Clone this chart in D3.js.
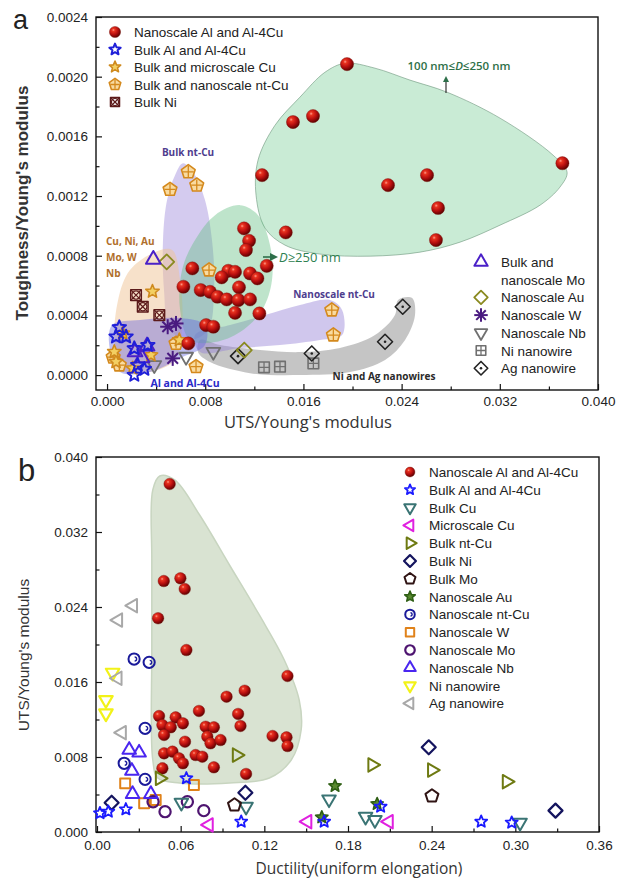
<!DOCTYPE html>
<html><head><meta charset="utf-8">
<script src="https://cdn.jsdelivr.net/npm/d3@7"></script>
<style>body{margin:0;background:#fff}svg{display:block}</style>
</head><body>
<svg id="c" width="627" height="882"></svg>
<script>
// ===== Panel a data: [UTS/E, Toughness/E] =====
const aNanoAl = [[0.01955,0.002084],[0.01515,0.001696],[0.01678,0.001736],[0.01263,0.00134],[0.02289,0.001273],[0.02607,0.00134],[0.02697,0.00112],[0.0268,0.000905],[0.0371,0.00142],[0.01456,0.000956],
 [0.01116,0.000983],[0.01157,0.0009],[0.01132,0.000838],[0.01301,0.000732],[0.00695,0.000715],[0.00988,0.000699],[0.01043,0.000692],[0.00934,0.000655],[0.01165,0.000681],[0.01225,0.000648],[0.00622,0.000592],[0.00763,0.00057],[0.00839,0.000558],[0.01075,0.000588],[0.00899,0.000525],[0.00975,0.000507],[0.0107,0.000503],[0.01165,0.000507],[0.01043,0.000417],[0.01241,0.000413],[0.00807,0.000335],[0.00866,0.000324],[0.00662,0.000212]];
const aBulkAl = [[0.0010,0.00032],[0.00155,0.000257],[0.0025,0.000067],[0.00222,0.0],[0.00304,0.00004],[0.00332,0.0002],[0.00222,0.000179],[0.00073,0.000257]];
const aBulkCu = [[0.0037,0.00056],[0.00073,0.000089],[0.00128,0.00028],[0.00209,0.000045],[0.00358,0.000134],[0.00589,0.000235],[0.00059,0.000156]];
const aNtCu = [[0.00662,0.001362],[0.00513,0.001244],[0.00731,0.001273],[0.00831,0.000704],[0.01831,0.000436],[0.01844,0.000268],[0.00562,0.000212],[0.00725,0.000056],[0.0010,0.000067],[0.0005,0.00012]];
const aBulkNi = [[0.00236,0.000536],[0.00291,0.000458],[0.00426,0.000402]];
const aMo = [[0.00377,0.000775],[0.00326,0.000194],[0.00285,0.000114],[0.00228,0.000154]];
const aAu = [[0.00486,0.000759],[0.01118,0.000168]];
const aW = [[0.00494,0.000324],[0.00562,0.000346],[0.00535,0.000112]];
const aNb = [[0.00866,0.000156],[0.00644,0.000123],[0.00385,0.000067]];
const aNiWire = [[0.01279,0.000052],[0.01409,0.000056],[0.01681,0.000078]];
const aAgWire = [[0.01067,0.000127],[0.01668,0.000145],[0.02265,0.000223],[0.02409,0.000458]];
const aXTicks = [0,0.008,0.016,0.024,0.032,0.040];
const aXMinor = [0.004,0.012,0.020,0.028,0.036];
const aYTicks = [0,0.0004,0.0008,0.0012,0.0016,0.0020,0.0024];
const aYMinor = [0.0002,0.0006,0.0010,0.0014,0.0018,0.0022];
// shaded regions (data coords)
const aRegBig = [[0.0123,0.00144],[0.01369,0.001675],[0.01572,0.001863],[0.01776,0.00203],[0.01939,0.00209],[0.02183,0.002057],[0.02468,0.001977],[0.0277,0.001896],[0.03202,0.001722],[0.03634,0.001474],[0.03748,0.00136],[0.0369,0.00126],[0.03528,0.001139],[0.03202,0.001005],[0.02876,0.000891],[0.0255,0.000824],[0.02143,0.000797],[0.01735,0.000811],[0.0145,0.000871],[0.01287,0.000985],[0.01214,0.001206]];
const aRegD250 = [[0.00611,0.000704],[0.00717,0.000905],[0.0088,0.001072],[0.01084,0.001139],[0.0123,0.001072],[0.01328,0.000871],[0.01344,0.000637],[0.01263,0.000436],[0.01084,0.000288],[0.0088,0.000221],[0.00676,0.000235],[0.00595,0.000436]];
const aRegBulkNt = [[0.00619,0.00142],[0.00717,0.00134],[0.00798,0.001173],[0.00855,0.000905],[0.00872,0.00057],[0.00823,0.000302],[0.00676,0.000235],[0.00513,0.000302],[0.00464,0.00057],[0.00456,0.000905],[0.00489,0.001173],[0.00554,0.00134]];
const aRegCuNi = [[0.0009,0.000503],[0.00187,0.000704],[0.00391,0.000824],[0.0053,0.000838],[0.00595,0.000637],[0.00611,0.000302],[0.00554,0.000101],[0.0035,0.00002],[0.00147,0.00002],[0.00065,0.000168]];
const aRegAl = [[0.00041,0.000335],[0.00269,0.000369],[0.00595,0.000382],[0.00798,0.000335],[0.00798,0.000201],[0.00595,0.000114],[0.0035,0.00002],[0.00106,0.00002],[0.00024,0.000168]];
const aRegNanoNt = [[0.00717,0.000268],[0.01002,0.000335],[0.01287,0.000402],[0.01572,0.000469],[0.01817,0.000503],[0.01915,0.000436],[0.01915,0.000268],[0.01735,0.000235],[0.01409,0.000201],[0.01084,0.000181],[0.00758,0.000154]];
const aRegWire = [[0.00758,0.000235],[0.00921,0.000201],[0.01247,0.000168],[0.01572,0.000154],[0.01898,0.000181],[0.02183,0.000268],[0.02346,0.000402],[0.02371,0.000503],[0.02485,0.000516],[0.02509,0.000402],[0.02428,0.000235],[0.02265,0.000101],[0.0198,0.00002],[0.01572,0.0],[0.01165,0.000013],[0.00839,0.000087],[0.00741,0.000154]];

// ===== Panel b data: [ductility, UTS/E] =====
const bNanoAl = [[0.0521,0.03712],[0.0479,0.02677],[0.0598,0.02706],[0.0629,0.02592],[0.0438,0.0228],[0.0641,0.01941],
 [0.0929,0.01443],[0.1059,0.01507],[0.0731,0.01291],[0.1012,0.01259],[0.1029,0.01131],[0.0445,0.01237],[0.0564,0.01223],[0.0616,0.01159],[0.0469,0.01141],[0.0529,0.01117],[0.0779,0.01123],[0.0838,0.01117],[0.0481,0.01035],[0.0631,0.00963],[0.0791,0.01017],[0.0814,0.00946],[0.0886,0.00981],[0.0481,0.00839],[0.0541,0.00857],[0.0707,0.00821],[0.0755,0.00803],[0.0588,0.00786],[0.0616,0.00733],[0.0838,0.0069],[0.0469,0.00679],[0.1069,0.00619],[0.1366,0.01664],[0.1259,0.01024],[0.1359,0.0101],[0.1366,0.00917]];
const bBulkAl = [[0.0021,0.002],[0.0081,0.00217],[0.0207,0.00242],[0.0641,0.00573],[0.1034,0.0011],[0.2755,0.0011],[0.2974,0.001],[0.1629,0.0011],[0.2034,0.0027]];
const bBulkCu = [[0.0605,0.00313],[0.1664,0.00349],[0.1926,0.00163],[0.1993,0.00128],[0.3034,0.001],[0.1069,0.0027]];
const bMicroCu = [[0.0802,0.00075],[0.1509,0.0011],[0.2093,0.0011]];
const bBulkNtCu = [[0.1002,0.00821],[0.045,0.00573],[0.1974,0.00715],[0.2402,0.00661],[0.2938,0.00537]];
const bBulkNi = [[0.0105,0.00313],[0.1064,0.00419],[0.2379,0.00903],[0.3288,0.00228]];
const bBulkMo = [[0.0986,0.00288],[0.2402,0.00384]];
const bNanoAu = [[0.1707,0.00491],[0.1612,0.00157],[0.2009,0.00299]];
const bNanoNtCu = [[0.0266,0.01845],[0.0374,0.0181],[0.0345,0.01106],[0.0195,0.00733],[0.0345,0.00562]];
const bNanoW = [[0.0202,0.00519],[0.0695,0.00501],[0.0338,0.00306],[0.0421,0.00341]];
const bNanoMo = [[0.0488,0.00217],[0.0648,0.00323],[0.0766,0.00228],[0.0402,0.00323]];
const bNanoNb = [[0.0231,0.00875],[0.0302,0.00846],[0.025,0.00651],[0.0255,0.00405],[0.0386,0.00405]];
const bNiWire = [[0.0064,0.01408],[0.0064,0.01266],[0.0112,0.017]];
const bAgWire = [[0.0148,0.0164],[0.0179,0.01059],[0.0152,0.02261],[0.0259,0.02414]];
const bXTicks = [0,0.06,0.12,0.18,0.24,0.30,0.36];
const bXMinor = [0.03,0.09,0.15,0.21,0.27,0.33];
const bYTicks = [0,0.008,0.016,0.024,0.032,0.040];
const bYMinor = [0.004,0.012,0.020,0.028,0.036];
const bRegion = [[0.04,0.03648],[0.045,0.03797],[0.0557,0.03755],[0.0736,0.03381],[0.095,0.02848],[0.1164,0.02315],[0.1343,0.01835],[0.145,0.01408],[0.1464,0.01088],[0.1393,0.00768],[0.1236,0.00576],[0.095,0.00523],[0.0593,0.00523],[0.0436,0.00576],[0.04,0.00768],[0.0393,0.01941],[0.0393,0.02901]];

// ===== drawing =====
const svg = d3.select('#c');
const defs = svg.append('defs');
const g1 = defs.append('radialGradient').attr('id','sph').attr('cx','36%').attr('cy','32%').attr('r','72%');
[[0,'#ff9c8c'],[0.18,'#e8321f'],[0.55,'#b80f0f'],[1,'#560000']].forEach(s=>g1.append('stop').attr('offset',s[0]).attr('stop-color',s[1]));
defs.append('marker').attr('id','arr').attr('viewBox','0 0 10 10').attr('refX',5).attr('refY',5)
  .attr('markerWidth',5).attr('markerHeight',5).attr('orient','auto-start-reverse')
  .append('path').attr('d','M0,0L10,5L0,10Z').attr('fill','#2e6f4a');

function poly(n,r,rot){const p=[];for(let i=0;i<n;i++){const a=(rot+360*i/n)*Math.PI/180;p.push([r*Math.cos(a),r*Math.sin(a)]);}return 'M'+p.map(q=>q[0].toFixed(2)+','+q[1].toFixed(2)).join('L')+'Z';}
function starP(r,ri){const p=[];for(let i=0;i<10;i++){const a=(-90+36*i)*Math.PI/180;const rr=i%2?ri:r;p.push([rr*Math.cos(a),rr*Math.sin(a)]);}return 'M'+p.map(q=>q[0].toFixed(2)+','+q[1].toFixed(2)).join('L')+'Z';}

function marker(g,s){
  const r=s.r, c=s.color, sw=s.sw||1.8, f=s.fill||'none';
  const P=(d,fill)=>g.append('path').attr('d',d).attr('fill',fill===undefined?f:fill).attr('stroke',c).attr('stroke-width',sw).attr('stroke-linejoin','round');
  switch(s.kind){
    case 'sphere': g.append('circle').attr('r',r).attr('fill','url(#sph)').attr('stroke','#7a1a10').attr('stroke-width',0.4); break;
    case 'star': P(starP(r,r*0.45)); break;
    case 'triUp': P(poly(3,r,-90)); break;
    case 'triDown': P(poly(3,r,90)); break;
    case 'triLeft': P(poly(3,r,180)); break;
    case 'triRight': P(poly(3,r,0)); break;
    case 'diamond': P(poly(4,r,-90)); break;
    case 'square': P(poly(4,r,45)); break;
    case 'pent': P(poly(5,r,-90)); break;
    case 'circle': g.append('circle').attr('r',r).attr('fill',f).attr('stroke',c).attr('stroke-width',sw); break;
    case 'asterisk': [0,45,90,135].forEach(a=>{const t=a*Math.PI/180;g.append('line').attr('x1',-r*Math.cos(t)).attr('y1',-r*Math.sin(t)).attr('x2',r*Math.cos(t)).attr('y2',r*Math.sin(t)).attr('stroke',c).attr('stroke-width',sw);}); break;
    case 'ntCuA': P(poly(5,r,-90));
      g.append('path').attr('d',`M${-r*0.75},0H${r*0.75}M0,${-r*0.8}V${r*0.7}`).attr('stroke',c).attr('stroke-width',sw*0.8); break;
    case 'niBulkA': P(poly(4,r,45));
      g.append('circle').attr('r',r*0.55).attr('fill','none').attr('stroke',c).attr('stroke-width',sw*0.8);
      g.append('path').attr('d',`M${-r*0.7},${-r*0.7}L${r*0.7},${r*0.7}M${r*0.7},${-r*0.7}L${-r*0.7},${r*0.7}`).attr('stroke',c).attr('stroke-width',sw*0.8); break;
    case 'niWireA': P(poly(4,r,45));
      g.append('path').attr('d',`M${-r*0.7},0H${r*0.7}M0,${-r*0.7}V${r*0.7}`).attr('stroke',c).attr('stroke-width',sw*0.8); break;
    case 'agWireA': P(poly(4,r,-90)); g.append('circle').attr('r',1.3).attr('fill',c); break;
    case 'ntCuB': g.append('circle').attr('r',r).attr('fill','none').attr('stroke',c).attr('stroke-width',sw);
      g.append('path').attr('d',`M${r*0.1},${-r*0.35}A${r*0.35},${r*0.35} 0 0 1 ${r*0.1},${r*0.35}`).attr('fill','none').attr('stroke',c).attr('stroke-width',sw*0.7); break;
  }
}
function plotSeries(layer,data,sx,sy,s){
  layer.append('g').selectAll('g').data(data).join('g')
    .attr('transform',d=>`translate(${sx(d[0])},${sy(d[1])})`)
    .each(function(){marker(d3.select(this),s);});
}
function axes(sx,sy,x0,x1,y0,y1,xt,xm,yt,ym,xf,yf,fs,xpad){
  const gx=svg.append('g').attr('transform',`translate(0,${y0})`)
    .call(d3.axisBottom(sx).tickValues(xt).tickFormat(d3.format(xf)).tickSizeInner(-6).tickSizeOuter(0).tickPadding(xpad));
  const gxm=svg.append('g').attr('transform',`translate(0,${y0})`)
    .call(d3.axisBottom(sx).tickValues(xm).tickFormat('').tickSizeInner(-3.5).tickSizeOuter(0));
  const gy=svg.append('g').attr('transform',`translate(${x0},0)`)
    .call(d3.axisLeft(sy).tickValues(yt).tickFormat(d3.format(yf)).tickSizeInner(-6).tickSizeOuter(0).tickPadding(8));
  const gym=svg.append('g').attr('transform',`translate(${x0},0)`)
    .call(d3.axisLeft(sy).tickValues(ym).tickFormat('').tickSizeInner(-3.5).tickSizeOuter(0));
  [gx,gxm,gy,gym].forEach(g=>{g.select('.domain').remove();g.selectAll('line').attr('stroke','#111').attr('stroke-width',1.2);
    g.selectAll('text').attr('font-family','Liberation Sans, Arial, sans-serif').attr('font-size',fs).attr('fill','#222');});
  svg.append('rect').attr('x',x0).attr('y',y1).attr('width',x1-x0).attr('height',y0-y1)
    .attr('fill','none').attr('stroke','#111').attr('stroke-width',1.4);
}
const blob = (sx,sy)=>d3.line().x(d=>sx(d[0])).y(d=>sy(d[1])).curve(d3.curveCatmullRomClosed.alpha(0.5));

// ---------- Panel a ----------
const xa = d3.scaleLinear().domain([-0.0009,0.040]).range([96,598]);
const ya = d3.scaleLinear().domain([-0.0001,0.0024]).range([390,17]);
svg.append('clipPath').attr('id','clipA').append('rect').attr('x',96).attr('y',17).attr('width',502).attr('height',373);
const regA = svg.append('g').attr('clip-path','url(#clipA)');
const la = blob(xa,ya);
[[aRegBig,'rgba(120,205,150,0.40)','rgba(110,150,125,0.6)'],
 [aRegWire,'rgba(140,140,140,0.5)','none'],
 [aRegNanoNt,'rgba(150,130,215,0.45)','none'],
 [aRegBulkNt,'rgba(160,140,220,0.45)','none'],
 [aRegCuNi,'rgba(240,195,150,0.5)','none'],
 [aRegD250,'rgba(100,190,130,0.42)','none'],
 [aRegAl,'rgba(100,100,225,0.42)','none']
].forEach(([d,fc,sc])=>regA.append('path').attr('d',la(d)).attr('fill',fc).attr('stroke',sc).attr('stroke-width',1));

axes(xa,ya,96,598,390,17,aXTicks,aXMinor,aYTicks,aYMinor,'.3f','.4f','13.5px',6);

const styA = {
  nanoAl:{kind:'sphere',r:6.6},
  bulkAl:{kind:'star',r:7,color:'#1f1fd8',sw:2},
  bulkCu:{kind:'star',r:7,color:'#cf8a1e',fill:'#f3cf62',sw:1.6},
  ntCu:{kind:'ntCuA',r:7.2,color:'#d4891c',fill:'#f9dba0',sw:1.6},
  bulkNi:{kind:'niBulkA',r:7.5,color:'#5c1a1a',sw:1.5},
  mo:{kind:'triUp',r:8.5,color:'#4a20c8',sw:2},
  au:{kind:'diamond',r:7.5,color:'#8a8a20',sw:1.8},
  w:{kind:'asterisk',r:7.5,color:'#4a1a80',sw:2},
  nb:{kind:'triDown',r:8,color:'#707070',sw:1.8},
  niWire:{kind:'niWireA',r:7.5,color:'#707070',sw:1.6},
  agWire:{kind:'agWireA',r:7.5,color:'#222',sw:1.6}
};
const mkA = svg.append('g');
plotSeries(mkA,aNiWire,xa,ya,styA.niWire);
plotSeries(mkA,aAgWire,xa,ya,styA.agWire);
plotSeries(mkA,aNb,xa,ya,styA.nb);
plotSeries(mkA,aAu,xa,ya,styA.au);
plotSeries(mkA,aNtCu,xa,ya,styA.ntCu);
plotSeries(mkA,aBulkCu,xa,ya,styA.bulkCu);
plotSeries(mkA,aBulkNi,xa,ya,styA.bulkNi);
plotSeries(mkA,aNanoAl,xa,ya,styA.nanoAl);
plotSeries(mkA,aMo,xa,ya,styA.mo);
plotSeries(mkA,aW,xa,ya,styA.w);
plotSeries(mkA,aBulkAl,xa,ya,styA.bulkAl);

// legends panel a
const legA1 = [['Nanoscale Al and Al-4Cu','nanoAl'],['Bulk Al and Al-4Cu','bulkAl'],['Bulk and microscale Cu','bulkCu'],['Bulk and nanoscale nt-Cu','ntCu'],['Bulk Ni','bulkNi']];
const LF='Liberation Sans, Arial, sans-serif';
legA1.forEach((e,i)=>{
  const y=32+i*17.5;
  const s=Object.assign({},styA[e[1]]); s.r=s.r*0.85;
  marker(svg.append('g').attr('transform',`translate(115,${y})`),s);
  svg.append('text').attr('x',134).attr('y',y+5).text(e[0]).attr('font-family',LF).attr('font-size','13.5px').attr('fill','#222');
});
const legA2 = [['Bulk and','mo'],['nanoscale Mo',null],['Nanoscale Au','au'],['Nanoscale W','w'],['Nanoscale Nb','nb'],['Ni nanowire','niWire'],['Ag nanowire','agWire']];
legA2.forEach((e,i)=>{
  const y=262+i*17.7;
  if(e[1]){const s=Object.assign({},styA[e[1]]); s.r=s.r*0.9; marker(svg.append('g').attr('transform',`translate(481,${y})`),s);}
  svg.append('text').attr('x',501).attr('y',y+5).text(e[0]).attr('font-family',LF).attr('font-size','13.5px').attr('fill','#222');
});

// annotations panel a
const AF='Open Sans, Liberation Sans, sans-serif';
function ann(x,y,t,col,anchor,size){return svg.append('text').attr('x',x).attr('y',y).text(t).attr('font-family',AF).attr('font-weight','bold').attr('font-size',size||'10px').attr('fill',col).attr('text-anchor',anchor||'start');}
ann(188,156,'Bulk nt-Cu','#4e3d8e','middle');
ann(106,245,'Cu, Ni, Au','#b06f2c');
ann(106,261,'Mo, W','#b06f2c');
ann(106,277,'Nb','#b06f2c');
ann(185,387,'Al and Al-4Cu','#2a2ac8','middle','10.5px');
ann(334,298,'Nanoscale nt-Cu','#4e3d8e','middle');
ann(384,380,'Ni and Ag nanowires','#2a2a2a','middle');
// D >= 250 nm
svg.append('line').attr('x1',263).attr('y1',257).attr('x2',274).attr('y2',257).attr('stroke','#2e6f4a').attr('stroke-width',1.6).attr('marker-end','url(#arr)');
const t1=svg.append('text').attr('x',279).attr('y',262).attr('font-family',AF).attr('font-size','13px').attr('fill','#2e8050');
t1.append('tspan').attr('font-style','italic').text('D');
t1.append('tspan').text('≥250 nm');
const t2=svg.append('text').attr('x',459).attr('y',70).attr('text-anchor','middle').attr('font-family',AF).attr('font-weight','600').attr('font-size','11.5px').attr('fill','#2e7048');
t2.append('tspan').text('100 nm≤');
t2.append('tspan').attr('font-style','italic').text('D');
t2.append('tspan').text('≤250 nm');
svg.append('line').attr('x1',446).attr('y1',93).attr('x2',446).attr('y2',79).attr('stroke','#333').attr('stroke-width',1.2).attr('marker-end','url(#arr)');

// titles panel a
svg.append('text').attr('x',13).attr('y',29).text('a').attr('font-family',LF).attr('font-size','27px').attr('fill','#222');
svg.append('text').attr('x',308).attr('y',428).attr('text-anchor','middle').text("UTS/Young's modulus").attr('font-family',AF).attr('font-size','16.5px').attr('fill','#333');
svg.append('text').attr('transform','translate(28,203) rotate(-90)').attr('text-anchor','middle').text("Toughness/Young's modulus").attr('font-family',LF).attr('font-size','17px').attr('font-weight','bold').attr('fill','#333');

// ---------- Panel b ----------
const xb = d3.scaleLinear().domain([0,0.36]).range([97,599]);
const yb = d3.scaleLinear().domain([0,0.040]).range([832,457]);
svg.append('path').attr('d',blob(xb,yb)(bRegion)).attr('fill','#d9e3d2').attr('stroke','#c8d5c0').attr('stroke-width',1.5);
axes(xb,yb,96,599,832,457,bXTicks,bXMinor,bYTicks,bYMinor,'.2f','.3f','13.5px',8);

const styB = {
  nanoAl:{kind:'sphere',r:5.8},
  bulkAl:{kind:'star',r:6.3,color:'#1a1aff',sw:1.8},
  bulkCu:{kind:'triDown',r:7.8,color:'#3a7474',sw:2},
  microCu:{kind:'triLeft',r:7.8,color:'#e020e0',sw:2},
  bulkNtCu:{kind:'triRight',r:7.8,color:'#6e7a12',sw:2},
  bulkNi:{kind:'diamond',r:7,color:'#14145e',sw:2.2},
  bulkMo:{kind:'pent',r:6.8,color:'#301414',sw:2},
  nanoAu:{kind:'star',r:6.5,color:'#2e5e14',fill:'#5a8a30',sw:1.6},
  nanoNtCu:{kind:'ntCuB',r:5.6,color:'#1a1a9a',sw:2},
  nanoW:{kind:'square',r:7,color:'#e0821a',sw:2},
  nanoMo:{kind:'circle',r:5.6,color:'#4e1470',sw:2.2},
  nanoNb:{kind:'triUp',r:7.8,color:'#4a26f0',sw:2},
  niWire:{kind:'triDown',r:7.8,color:'#f2f218',sw:2.2},
  agWire:{kind:'triLeft',r:7.8,color:'#a8a8a8',sw:2}
};
const mkB = svg.append('g');
plotSeries(mkB,bNanoAl,xb,yb,styB.nanoAl);
plotSeries(mkB,bNiWire,xb,yb,styB.niWire);
plotSeries(mkB,bAgWire,xb,yb,styB.agWire);
plotSeries(mkB,bNanoW,xb,yb,styB.nanoW);
plotSeries(mkB,bNanoMo,xb,yb,styB.nanoMo);
plotSeries(mkB,bNanoNb,xb,yb,styB.nanoNb);
plotSeries(mkB,bNanoNtCu,xb,yb,styB.nanoNtCu);
plotSeries(mkB,bBulkCu,xb,yb,styB.bulkCu);
plotSeries(mkB,bMicroCu,xb,yb,styB.microCu);
plotSeries(mkB,bBulkNtCu,xb,yb,styB.bulkNtCu);
plotSeries(mkB,bBulkNi,xb,yb,styB.bulkNi);
plotSeries(mkB,bBulkMo,xb,yb,styB.bulkMo);
plotSeries(mkB,bNanoAu,xb,yb,styB.nanoAu);
plotSeries(mkB,bBulkAl,xb,yb,styB.bulkAl);

const legB = [['Nanoscale Al and Al-4Cu','nanoAl'],['Bulk Al and Al-4Cu','bulkAl'],['Bulk Cu','bulkCu'],['Microscale Cu','microCu'],['Bulk nt-Cu','bulkNtCu'],['Bulk Ni','bulkNi'],['Bulk Mo','bulkMo'],['Nanoscale Au','nanoAu'],['Nanoscale nt-Cu','nanoNtCu'],['Nanoscale W','nanoW'],['Nanoscale Mo','nanoMo'],['Nanoscale Nb','nanoNb'],['Ni nanowire','niWire'],['Ag nanowire','agWire']];
legB.forEach((e,i)=>{
  const y=472+i*17.8;
  const s=Object.assign({},styB[e[1]]); s.r=s.r*0.85;
  marker(svg.append('g').attr('transform',`translate(410,${y})`),s);
  svg.append('text').attr('x',429).attr('y',y+5).text(e[0]).attr('font-family',LF).attr('font-size','13.5px').attr('fill','#222');
});

svg.append('text').attr('x',18).attr('y',481).text('b').attr('font-family',LF).attr('font-size','31px').attr('fill','#222');
svg.append('text').attr('x',359).attr('y',874).attr('text-anchor','middle').text('Ductility(uniform elongation)').attr('font-family',AF).attr('font-size','15.5px').attr('fill','#333');
svg.append('text').attr('transform','translate(29,655) rotate(-90)').attr('text-anchor','middle').text("UTS/Young's modulus").attr('font-family',LF).attr('font-size','15.5px').attr('fill','#333');
</script>
</body></html>
